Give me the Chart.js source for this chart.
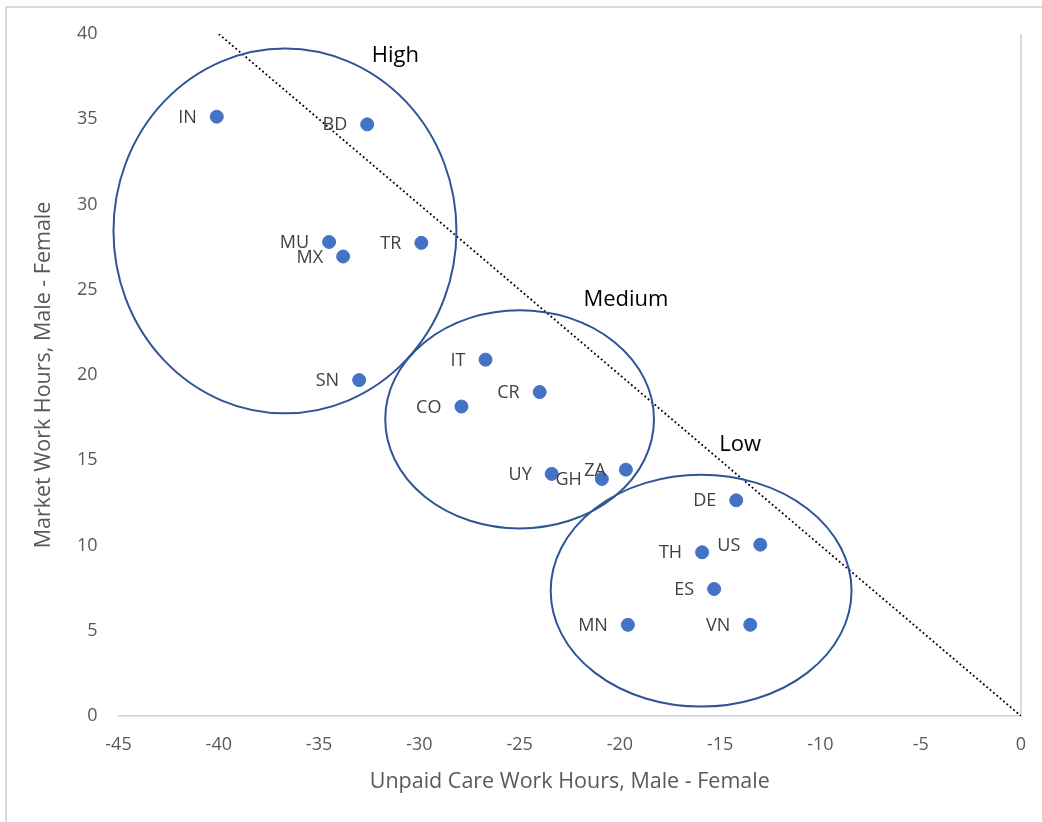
<!DOCTYPE html>
<html>
<head>
<meta charset="utf-8">
<script src="https://cdn.jsdelivr.net/npm/chart.js@4.4.1/dist/chart.umd.min.js"></script>
<style>
  html, body { margin: 0; padding: 0; background: #fff; }
  #wrap { width: 1042px; height: 822px; position: relative; }
</style>
</head>
<body>
<div id="wrap"><canvas id="chart" width="1042" height="822"></canvas></div>
<script>
// ---- data ----
const countries  = ['IN', 'BD', 'MU', 'MX', 'TR', 'SN', 'IT', 'CR', 'CO', 'UY', 'GH', 'ZA', 'DE', 'US', 'TH', 'ES', 'MN', 'VN'];
const careGap    = [-40.1, -32.6, -34.5, -33.8, -29.9, -33.0, -26.7, -24.0, -27.9, -23.4, -20.9, -19.7, -14.2, -13.0, -15.9, -15.3, -19.6, -13.5];
const marketGap  = [35.15, 34.7, 27.8, 26.95, 27.75, 19.7, 20.9, 19.0, 18.15, 14.2, 13.9, 14.45, 12.65, 10.05, 9.6, 7.45, 5.35, 5.35];

// trend line end points
const trendX = [-40, 0];
const trendY = [40, 0];

// grouping ellipses (data units)
const groupNames = ['High', 'Medium', 'Low'];
const groupCx    = [-36.7, -25.0, -15.95];
const groupCy    = [28.45, 17.4, 7.35];
const groupRx    = [8.55, 6.7, 7.5];
const groupRy    = [10.7, 6.4, 6.8];
const groupLabelX = [-31.2, -19.7, -14.0];
const groupLabelY = [38.7, 24.4, 15.9];

const xTicks = { min: -45, max: 0, step: 5 };
const yTicks = { min: 0, max: 40, step: 5 };

const COLORS = {
  point:   '#4472c4',
  ellipse: '#2f5597',
  tick:    '#595959',
  label:   '#404040',
  axis:    '#d0d0d0',
  frame:   '#d9d9d9',
};
const FONT = 'Open Sans, sans-serif';

// outer frame + right axis line at x = 0
const framePlugin = {
  id: 'frame',
  beforeDraw(chart) {
    const ctx = chart.ctx;
    ctx.save();
    ctx.strokeStyle = COLORS.frame;
    ctx.lineWidth = 2;
    ctx.beginPath();
    ctx.moveTo(6, 822);
    ctx.lineTo(6, 7);
    ctx.lineTo(1042, 7);
    ctx.stroke();
    ctx.restore();
  },
  beforeDatasetsDraw(chart) {
    const { ctx, scales: { x, y } } = chart;
    const px = x.getPixelForValue(0);
    ctx.save();
    ctx.strokeStyle = COLORS.axis;
    ctx.lineWidth = 1.6;
    ctx.beginPath();
    ctx.moveTo(px, y.getPixelForValue(yTicks.max));
    ctx.lineTo(px, y.getPixelForValue(0));
    ctx.stroke();
    ctx.restore();
  }
};

// ellipses, point labels and group names
const annotatePlugin = {
  id: 'annotate',
  afterDatasetsDraw(chart) {
    const { ctx, scales: { x, y } } = chart;
    ctx.save();

    ctx.strokeStyle = COLORS.ellipse;
    ctx.lineWidth = 2;
    groupNames.forEach((g, i) => {
      const cx = x.getPixelForValue(groupCx[i]);
      const cy = y.getPixelForValue(groupCy[i]);
      const rx = Math.abs(x.getPixelForValue(groupCx[i] + groupRx[i]) - cx);
      const ry = Math.abs(y.getPixelForValue(groupCy[i] + groupRy[i]) - cy);
      ctx.beginPath();
      ctx.ellipse(cx, cy, rx, ry, 0, 0, Math.PI * 2);
      ctx.stroke();
    });

    const meta = chart.getDatasetMeta(0);
    ctx.font = '18px ' + FONT;
    ctx.fillStyle = COLORS.label;
    ctx.textAlign = 'right';
    ctx.textBaseline = 'middle';
    meta.data.forEach((pt, i) => {
      ctx.fillText(countries[i], pt.x - 20, pt.y + 1);
    });

    ctx.font = '22px ' + FONT;
    ctx.fillStyle = '#000';
    ctx.textAlign = 'center';
    groupNames.forEach((g, i) => {
      ctx.fillText(g, x.getPixelForValue(groupLabelX[i]), y.getPixelForValue(groupLabelY[i]));
    });
    ctx.restore();
  }
};

new Chart(document.getElementById('chart'), {
  type: 'scatter',
  data: {
    datasets: [
      {
        label: 'Countries',
        data: careGap.map((v, i) => ({ x: v, y: marketGap[i] })),
        backgroundColor: COLORS.point,
        borderColor: COLORS.point,
        pointRadius: 6.5,
        pointHoverRadius: 6.5,
        order: 1,
      },
      {
        type: 'line',
        label: 'Trend',
        data: trendX.map((v, i) => ({ x: v, y: trendY[i] })),
        borderColor: '#000',
        borderWidth: 1.8,
        borderDash: [1.8, 2.6],
        pointRadius: 0,
        fill: false,
        order: 2,
      }
    ]
  },
  options: {
    responsive: false,
    animation: false,
    layout: { padding: { top: 34, right: 21, bottom: 25, left: 24 } },
    plugins: {
      legend: { display: false },
      tooltip: { enabled: false },
    },
    scales: {
      x: {
        type: 'linear',
        min: xTicks.min,
        max: xTicks.max,
        afterFit: s => { s.height = 822 - 25 - 716; s.paddingLeft = 0; s.paddingRight = 0; },
        grid: { display: false, drawTicks: false },
        border: { display: true, color: COLORS.axis, width: 1.6 },
        ticks: { stepSize: xTicks.step, color: COLORS.tick, font: { family: FONT, size: 18 }, padding: 18, maxRotation: 0 },
        title: { display: true, text: 'Unpaid Care Work Hours, Male - Female', color: COLORS.tick, font: { family: FONT, size: 21.5 }, padding: { top: 4, bottom: 2 } },
      },
      y: {
        type: 'linear',
        min: yTicks.min,
        max: yTicks.max,
        afterFit: s => { s.width = 118.5 - 24; },
        grid: { display: false, drawTicks: false },
        border: { display: false },
        ticks: { stepSize: yTicks.step, color: COLORS.tick, font: { family: FONT, size: 18 }, padding: 21 },
        title: { display: true, text: 'Market Work Hours, Male - Female', color: COLORS.tick, font: { family: FONT, size: 21.5 }, padding: { top: 7, bottom: 0 } },
      }
    }
  },
  plugins: [framePlugin, annotatePlugin]
});
</script>
</body>
</html>
